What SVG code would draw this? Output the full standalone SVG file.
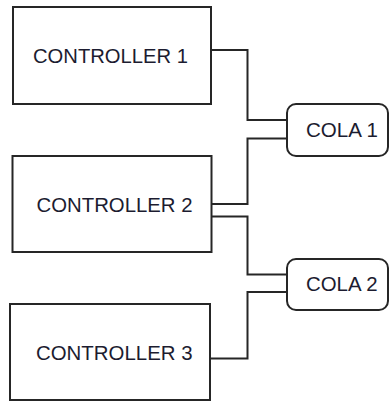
<svg xmlns="http://www.w3.org/2000/svg" width="389" height="401" viewBox="0 0 389 401">
  <style>
    .box { fill: #ffffff; stroke: #262626; stroke-width: 2; }
    .wire { fill: none; stroke: #262626; stroke-width: 2; }
    .label { font-family: "Liberation Sans", Arial, sans-serif; font-size: 20px; fill: #1c1c30; }
  </style>
  <rect width="389" height="401" fill="#ffffff"/>

  <!-- connectors -->
  <g id="connectors">
    <path class="wire" d="M211,50 H247.5 V120 H287"/>
    <path class="wire" d="M211.5,204 H247.5 V138.5 H287"/>
    <path class="wire" d="M211.5,216.5 H247.5 V274.5 H287"/>
    <path class="wire" d="M210,358.5 H247.5 V292 H287"/>
  </g>

  <g id="controller1">
    <rect class="box" x="13" y="7" width="198" height="97"/>
    <text class="label" x="33" y="62.5" textLength="155" lengthAdjust="spacingAndGlyphs">CONTROLLER 1</text>
  </g>

  <g id="controller2">
    <rect class="box" x="12.5" y="156" width="199" height="96"/>
    <text class="label" x="36.5" y="212" textLength="156" lengthAdjust="spacingAndGlyphs">CONTROLLER 2</text>
  </g>

  <g id="controller3">
    <rect class="box" x="10" y="304" width="200" height="96"/>
    <text class="label" x="36" y="359.5" textLength="156.5" lengthAdjust="spacingAndGlyphs">CONTROLLER 3</text>
  </g>

  <g id="cola1">
    <rect class="box" x="287" y="104" width="101" height="52" rx="9" ry="9"/>
    <text class="label" x="306" y="137" textLength="72" lengthAdjust="spacingAndGlyphs">COLA 1</text>
  </g>

  <g id="cola2">
    <rect class="box" x="287" y="259" width="101" height="51" rx="9" ry="9"/>
    <text class="label" x="306" y="291" textLength="71.5" lengthAdjust="spacingAndGlyphs">COLA 2</text>
  </g>
</svg>
